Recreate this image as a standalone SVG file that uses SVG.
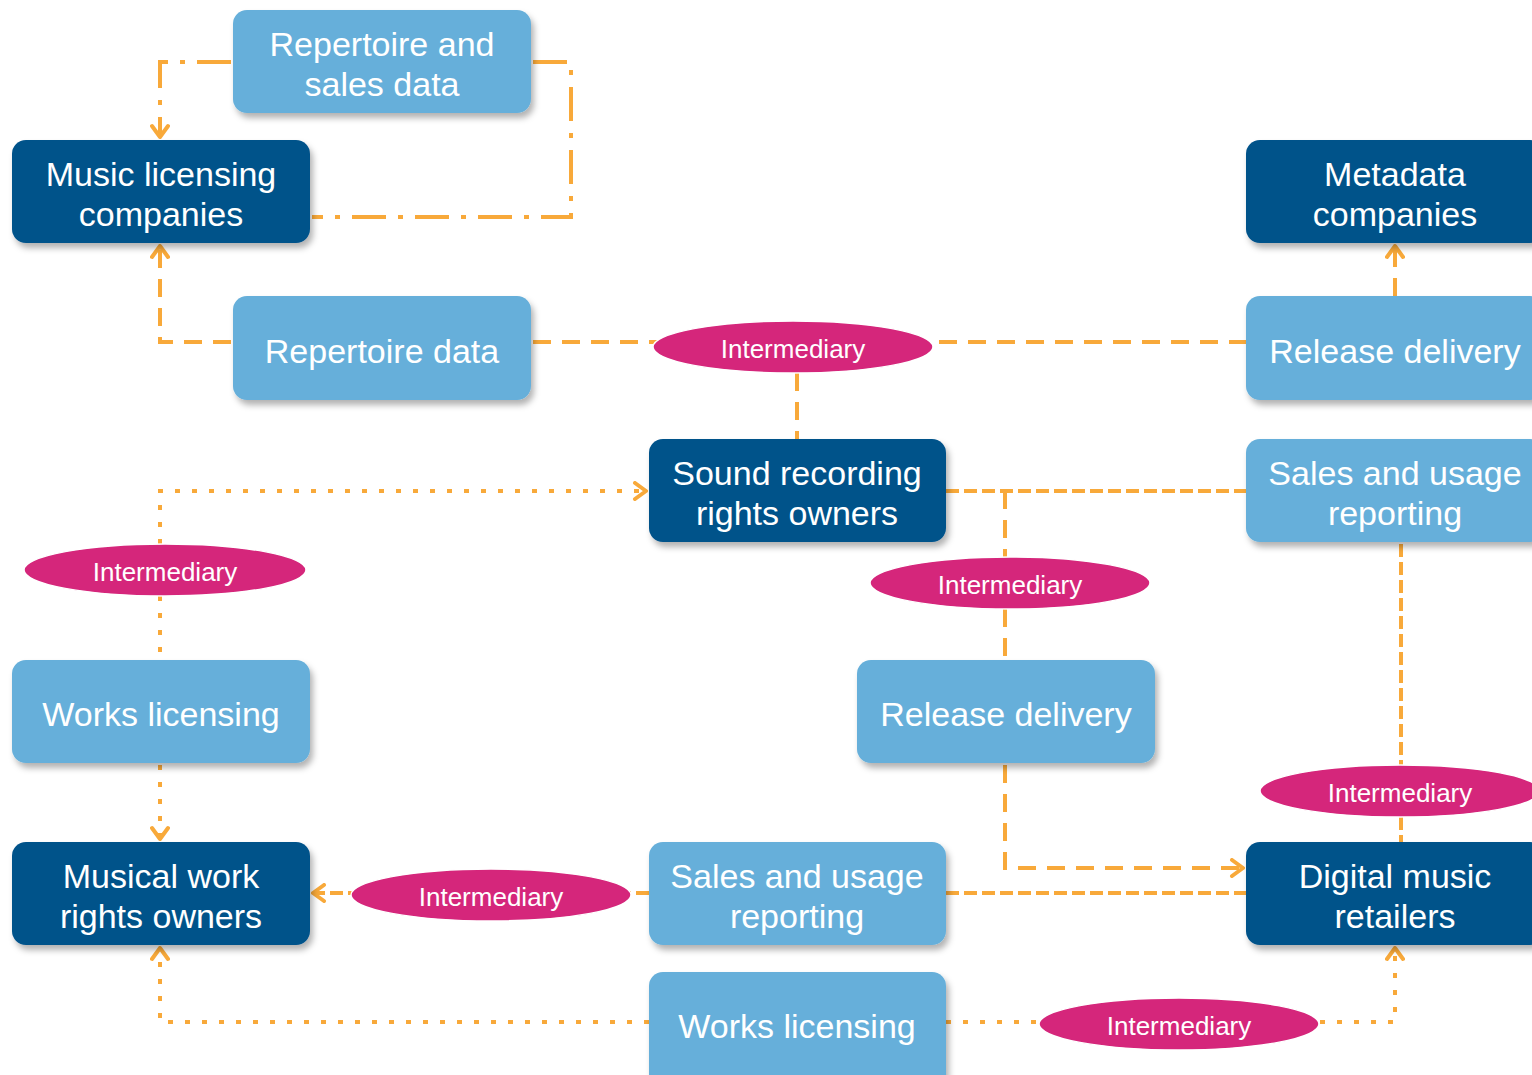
<svg xmlns="http://www.w3.org/2000/svg" width="1532" height="1075" viewBox="0 0 1532 1075">
<style>
.dark{fill:#03528A}
.light{fill:#66AFDA}
.node rect{filter:url(#sh)}
.t{font-family:"Liberation Sans",Arial,sans-serif;font-size:34px;fill:#fff;text-anchor:middle}
.it{font-family:"Liberation Sans",Arial,sans-serif;font-size:26px;fill:#fff;text-anchor:middle}
.ell{fill:#D5267B;stroke:#fff;stroke-width:1.5}
.c{fill:none;stroke:#F8A93A;stroke-width:4}
.dash{stroke-dasharray:18 11}
.dense{stroke-dasharray:13 5}
.dot{stroke-dasharray:5 12}
.dd{stroke-dasharray:34 12 5 12}
</style>
<defs>
<filter id="sh" x="-10%" y="-10%" width="125%" height="130%">
<feDropShadow dx="3" dy="5" stdDeviation="3" flood-color="#000" flood-opacity="0.3"/>
</filter>
<marker id="ah" viewBox="0 0 16 20" refX="14" refY="10" markerWidth="16" markerHeight="20" markerUnits="userSpaceOnUse" orient="auto">
<path d="M3,2 L14,10 L3,18" fill="none" stroke="#F8A93A" stroke-width="4" stroke-linecap="round" stroke-linejoin="round"/>
</marker>
</defs>
<rect width="1532" height="1075" fill="#fff"/>

<g id="connectors">
<path class="c dd" d="M231,62 H160 V137" marker-end="url(#ah)"/>
<path class="c dd" d="M533,62 H571 V217 H312"/>
<path class="c dash" d="M231,342 H160 V246" marker-end="url(#ah)"/>
<path class="c dash" d="M533,342 H1246"/>
<path class="c dash" d="M797,373 V439"/>
<path class="c dash" d="M1395,296 V246" marker-end="url(#ah)"/>
<path class="c dot" d="M160,544 V491 H646" marker-end="url(#ah)"/>
<path class="c dot" d="M160,596 V660"/>
<path class="c dot" d="M160,765 V839" marker-end="url(#ah)"/>
<path class="c dense" d="M946,491 H1246"/>
<path class="c dash" d="M1005,491 V557"/>
<path class="c dash" d="M1005,609 V660"/>
<path class="c dash" d="M1005,765 V868 H1243" marker-end="url(#ah)"/>
<path class="c dense" d="M1401,544 V765"/>
<path class="c dense" d="M1401,817 V842"/>
<path class="c dense" d="M946,893 H1246"/>
<path class="c dense" d="M649,893 H313" marker-end="url(#ah)"/>
<path class="c dot" d="M649,1022 H160 V948" marker-end="url(#ah)"/>
<path class="c dot" d="M946,1022 H1395 V948" marker-end="url(#ah)"/>
</g>

<g id="n-rep-sales" class="node"><rect class="light" x="233" y="10" width="298" height="103" rx="14"/>
<text class="t" x="382" y="56">Repertoire and</text><text class="t" x="382" y="96">sales data</text></g>
<g id="n-music-lic" class="node"><rect class="dark" x="12" y="140" width="298" height="103" rx="14"/>
<text class="t" x="161" y="186">Music licensing</text><text class="t" x="161" y="226">companies</text></g>
<g id="n-rep-data" class="node"><rect class="light" x="233" y="296" width="298" height="104" rx="14"/>
<text class="t" x="382" y="363">Repertoire data</text></g>
<g id="n-metadata" class="node"><rect class="dark" x="1246" y="140" width="298" height="103" rx="14"/>
<text class="t" x="1395" y="186">Metadata</text><text class="t" x="1395" y="226">companies</text></g>
<g id="n-release-top" class="node"><rect class="light" x="1246" y="296" width="298" height="104" rx="14"/>
<text class="t" x="1395" y="363">Release delivery</text></g>
<g id="n-sound" class="node"><rect class="dark" x="649" y="439" width="297" height="103" rx="14"/>
<text class="t" x="797" y="485">Sound recording</text><text class="t" x="797" y="525">rights owners</text></g>
<g id="n-sales-right" class="node"><rect class="light" x="1246" y="439" width="298" height="103" rx="14"/>
<text class="t" x="1395" y="485">Sales and usage</text><text class="t" x="1395" y="525">reporting</text></g>
<g id="n-works-left" class="node"><rect class="light" x="12" y="660" width="298" height="103" rx="14"/>
<text class="t" x="161" y="726">Works licensing</text></g>
<g id="n-release-mid" class="node"><rect class="light" x="857" y="660" width="298" height="103" rx="14"/>
<text class="t" x="1006" y="726">Release delivery</text></g>
<g id="n-musical" class="node"><rect class="dark" x="12" y="842" width="298" height="103" rx="14"/>
<text class="t" x="161" y="888">Musical work</text><text class="t" x="161" y="928">rights owners</text></g>
<g id="n-sales-bottom" class="node"><rect class="light" x="649" y="842" width="297" height="103" rx="14"/>
<text class="t" x="797" y="888">Sales and usage</text><text class="t" x="797" y="928">reporting</text></g>
<g id="n-digital" class="node"><rect class="dark" x="1246" y="842" width="298" height="103" rx="14"/>
<text class="t" x="1395" y="888">Digital music</text><text class="t" x="1395" y="928">retailers</text></g>
<g id="n-works-bottom" class="node"><rect class="light" x="649" y="972" width="297" height="120" rx="14"/>
<text class="t" x="797" y="1038">Works licensing</text></g>

<g id="i-top"><ellipse class="ell" cx="793" cy="347" rx="140" ry="26"/><text class="it" x="793" y="358">Intermediary</text></g>
<g id="i-left"><ellipse class="ell" cx="165" cy="570" rx="141" ry="26"/><text class="it" x="165" y="581">Intermediary</text></g>
<g id="i-mid"><ellipse class="ell" cx="1010" cy="583" rx="140" ry="26"/><text class="it" x="1010" y="594">Intermediary</text></g>
<g id="i-right"><ellipse class="ell" cx="1400" cy="791" rx="140" ry="26"/><text class="it" x="1400" y="802">Intermediary</text></g>
<g id="i-bl"><ellipse class="ell" cx="491" cy="895" rx="140" ry="26"/><text class="it" x="491" y="906">Intermediary</text></g>
<g id="i-br"><ellipse class="ell" cx="1179" cy="1024" rx="140" ry="26"/><text class="it" x="1179" y="1035">Intermediary</text></g>
</svg>
